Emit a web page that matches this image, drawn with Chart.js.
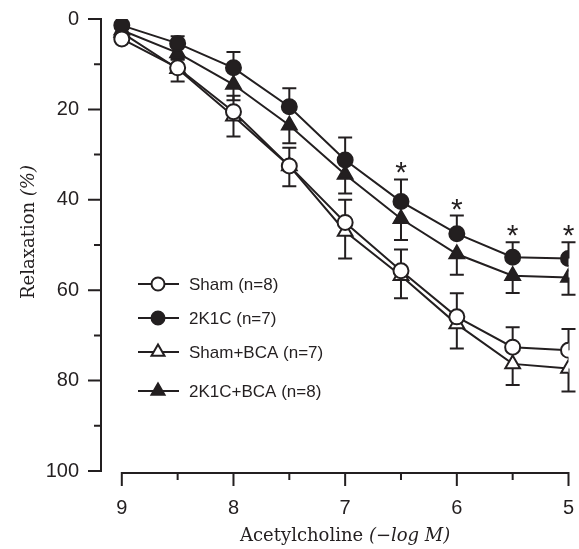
<!DOCTYPE html>
<html>
<head>
<meta charset="utf-8">
<script src="https://cdn.jsdelivr.net/npm/chart.js@4.4.0/dist/chart.umd.min.js"></script>
<style>
  html, body { margin: 0; padding: 0; background: #fff; }
  #wrap { width: 579px; height: 549px; }
</style>
</head>
<body>
<div id="wrap"><canvas id="chart" width="579" height="549"></canvas></div>
<script>
// acetylcholine dose, -log M
var doses = [9, 8.5, 8, 7.5, 7, 6.5, 6, 5.5, 5];

// relaxation (%) means and SEM
var sham       = [4.4, 10.8, 20.5, 32.5, 45.0, 55.7, 65.9, 72.6, 73.3];
var shamErr    = [1.0, 2.0, 3.5, 4.0, 5.0, 4.7, 5.2, 4.4, 4.7];
var k1c        = [1.4, 5.4, 10.8, 19.4, 31.2, 40.4, 47.5, 52.7, 53.0];
var k1cErr     = [0.5, 1.6, 3.5, 4.1, 5.0, 4.9, 4.0, 3.3, 3.6];
var shamBca    = [3.0, 11.0, 21.5, 32.5, 47.0, 56.8, 67.5, 76.3, 77.3];
var shamBcaErr = [1.0, 2.8, 4.5, 4.5, 6.0, 5.0, 5.4, 4.7, 5.1];
var k1cBca     = [2.5, 7.5, 14.5, 23.5, 34.4, 44.2, 52.0, 56.8, 57.2];
var k1cBcaErr  = [0.5, 1.5, 3.5, 4.0, 4.2, 4.7, 4.6, 3.8, 3.8];

// doses where 2K1C differs significantly (*)
var starDoses = [6.5, 6, 5.5, 5];

var xTicks = [9, 8, 7, 6, 5];
var xMinor = [8.5, 7.5, 6.5, 5.5];
var yTicks = [0, 20, 40, 60, 80, 100];
var yMinor = [10, 30, 50, 70, 90];

var ink = "#231f20";

function pts(vals) {
	return doses.map(function(d, i) { return { x: d, y: vals[i] }; });
}

function series(label, vals, errs, dir, style, fill) {
	return {
		label: label,
		data: pts(vals),
		errors: errs,
		errDir: dir,
		borderColor: ink,
		borderWidth: 2,
		backgroundColor: fill,
		fill: false,
		tension: 0,
		pointStyle: style,
		pointRadius: style == "triangle" ? 8.5 : 7.5,
		pointBorderWidth: 2,
		pointBorderColor: ink,
		pointBackgroundColor: fill
	};
}

var datasets = [
	series("Sham (n=8)", sham, shamErr, -1, "circle", "#ffffff"),
	series("2K1C (n=7)", k1c, k1cErr, -1, "circle", ink),
	series("Sham+BCA (n=7)", shamBca, shamBcaErr, 1, "triangle", "#ffffff"),
	series("2K1C+BCA (n=8)", k1cBca, k1cBcaErr, 1, "triangle", ink)
];

// error bars, drawn under the markers
var errorBars = {
	id: "errorBars",
	beforeDatasetsDraw: function(chart) {
		var ctx = chart.ctx, xs = chart.scales.x, ys = chart.scales.y;
		ctx.save();
		ctx.strokeStyle = ink;
		ctx.lineWidth = 2;
		chart.data.datasets.forEach(function(ds) {
			ds.data.forEach(function(p, i) {
				var x = xs.getPixelForValue(p.x);
				var y0 = ys.getPixelForValue(p.y);
				var y1 = ys.getPixelForValue(p.y + ds.errDir * ds.errors[i]);
				ctx.beginPath();
				ctx.moveTo(x, y0);
				ctx.lineTo(x, y1);
				ctx.moveTo(x - 7, y1);
				ctx.lineTo(x + 7, y1);
				ctx.stroke();
			});
		});
		ctx.restore();
	},
	afterDatasetsDraw: function(chart) {
		var ctx = chart.ctx, xs = chart.scales.x, ys = chart.scales.y;
		var ds = chart.data.datasets[1];
		ctx.save();
		ctx.fillStyle = ink;
		ctx.font = '30px "Liberation Sans"';
		ctx.textAlign = "center";
		ctx.textBaseline = "alphabetic";
		starDoses.forEach(function(d) {
			var i = doses.indexOf(d);
			var top = ys.getPixelForValue(ds.data[i].y - ds.errors[i]);
			ctx.fillText("*", xs.getPixelForValue(d), top + 3);
		});
		ctx.restore();
	}
};

// detached axes with long/short ticks, axis titles and legend
var frame = {
	id: "frame",
	afterDraw: function(chart) {
		var ctx = chart.ctx, xs = chart.scales.x, ys = chart.scales.y;
		var area = chart.chartArea;
		ctx.save();
		ctx.strokeStyle = ink;
		ctx.lineWidth = 2;

		var ax = area.left;
		ctx.beginPath();
		ctx.moveTo(ax, ys.getPixelForValue(0) - 1);
		ctx.lineTo(ax, ys.getPixelForValue(100) + 1);
		yTicks.forEach(function(v) {
			var y = ys.getPixelForValue(v);
			ctx.moveTo(ax, y); ctx.lineTo(ax - 13, y);
		});
		yMinor.forEach(function(v) {
			var y = ys.getPixelForValue(v);
			ctx.moveTo(ax, y); ctx.lineTo(ax - 7, y);
		});

		var ay = area.bottom + 2;
		ctx.moveTo(xs.getPixelForValue(9) - 1, ay);
		ctx.lineTo(xs.getPixelForValue(5) + 1, ay);
		xTicks.forEach(function(v) {
			var x = xs.getPixelForValue(v);
			ctx.moveTo(x, ay); ctx.lineTo(x, ay + 13);
		});
		xMinor.forEach(function(v) {
			var x = xs.getPixelForValue(v);
			ctx.moveTo(x, ay); ctx.lineTo(x, ay + 7);
		});
		ctx.stroke();

		// axis titles
		ctx.fillStyle = ink;
		ctx.textBaseline = "alphabetic";
		ctx.textAlign = "left";
		var plain = '18px "DejaVu Serif"', ital = 'italic 18px "DejaVu Serif"';

		var t1 = "Acetylcholine ", t2 = "(\u2212log M)";
		ctx.font = plain; var w1 = ctx.measureText(t1).width;
		ctx.font = ital; var w2 = ctx.measureText(t2).width;
		var cx = (xs.getPixelForValue(9) + xs.getPixelForValue(5)) / 2;
		ctx.font = plain; ctx.fillText(t1, cx - (w1 + w2) / 2, 541);
		ctx.font = ital; ctx.fillText(t2, cx - (w1 + w2) / 2 + w1, 541);

		var r1 = "Relaxation ", r2 = "(%)";
		ctx.font = plain; var v1 = ctx.measureText(r1).width;
		ctx.font = ital; var v2 = ctx.measureText(r2).width;
		ctx.save();
		ctx.translate(34, 232);
		ctx.rotate(-Math.PI / 2);
		ctx.font = plain; ctx.fillText(r1, -(v1 + v2) / 2, 0);
		ctx.font = ital; ctx.fillText(r2, -(v1 + v2) / 2 + v1, 0);
		ctx.restore();

		// legend
		var rows = [284, 318, 352, 391];
		ctx.font = '17px "Liberation Sans"';
		ctx.textBaseline = "middle";
		chart.data.datasets.forEach(function(ds, i) {
			var y = rows[i];
			ctx.strokeStyle = ink;
			ctx.lineWidth = 2;
			ctx.beginPath();
			ctx.moveTo(138, y); ctx.lineTo(179, y);
			ctx.stroke();
			ctx.fillStyle = ds.pointBackgroundColor;
			Chart.helpers.drawPoint(ctx, {
				pointStyle: ds.pointStyle,
				radius: ds.pointStyle == "triangle" ? 7.5 : 6.5,
				borderWidth: 2,
				rotation: 0
			}, 158, y);
			ctx.fillStyle = ink;
			ctx.fillText(ds.label, 189, y + 1);
		});
		ctx.restore();
	}
};

var tickFont = { family: "Liberation Sans", size: 20 };

var chart = new Chart(document.getElementById("chart"), {
	type: "line",
	data: { datasets: datasets },
	options: {
		responsive: false,
		animation: false,
		layout: { padding: { top: 19, right: 6, left: 0, bottom: 0 } },
		plugins: {
			legend: { display: false },
			tooltip: { enabled: false }
		},
		scales: {
			x: {
				type: "linear",
				reverse: true,
				min: 5,
				max: 9.1863,
				afterBuildTicks: function(s) { s.ticks = xTicks.map(function(v) { return { value: v }; }); },
				afterFit: function(s) { s.height = 78; s.paddingLeft = 0; s.paddingRight = 0; },
				grid: { display: false, drawTicks: false },
				border: { display: false },
				ticks: { font: tickFont, color: ink, padding: 25, maxRotation: 0, autoSkip: false }
			},
			y: {
				type: "linear",
				reverse: true,
				min: 0,
				max: 100,
				afterBuildTicks: function(s) { s.ticks = yTicks.map(function(v) { return { value: v }; }); },
				afterFit: function(s) { s.width = 101; s.paddingTop = 0; s.paddingBottom = 0; },
				grid: { display: false, drawTicks: false },
				border: { display: false },
				ticks: { font: tickFont, color: ink, padding: 22 }
			}
		}
	},
	plugins: [errorBars, frame]
});
</script>
</body>
</html>
